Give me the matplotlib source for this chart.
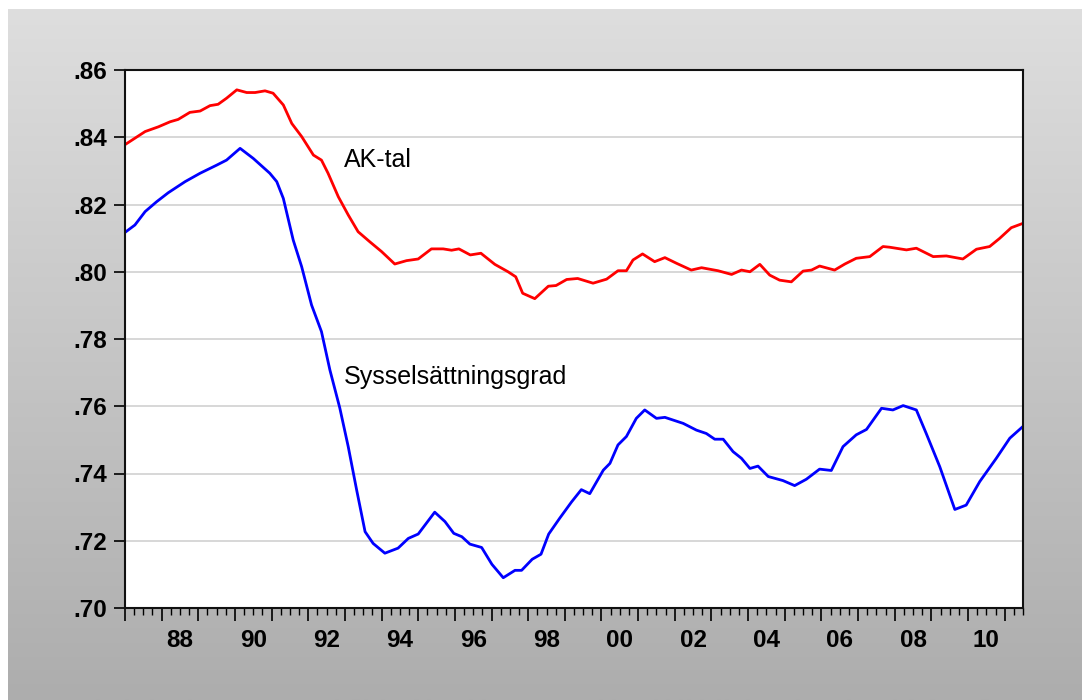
import numpy as np
import matplotlib
matplotlib.use("Agg")
import matplotlib.pyplot as plt
from matplotlib.ticker import MultipleLocator, FixedLocator

plt.rcParams["font.family"] = ["Liberation Sans", "DejaVu Sans"]

# -----------------------------
# Data
# -----------------------------
ak_year = [1987.0, 1987.55, 1987.91, 1988.23, 1988.45, 1988.77, 1989.05, 1989.32,
           1989.54, 1989.77, 1990.05, 1990.32, 1990.55, 1990.82, 1991.04, 1991.32,
           1991.55, 1991.82, 1992.14, 1992.36, 1992.54, 1992.82, 1993.09, 1993.36,
           1993.68, 1994.00, 1994.36, 1994.68, 1995.00, 1995.36, 1995.68, 1995.91,
           1996.11, 1996.42, 1996.71, 1997.09, 1997.45, 1997.66, 1997.85, 1998.18,
           1998.55, 1998.76, 1999.05, 1999.35, 1999.77, 2000.14, 2000.45, 2000.68,
           2000.86, 2001.12, 2001.45, 2001.73, 2002.05, 2002.45, 2002.73, 2003.18,
           2003.55, 2003.82, 2004.05, 2004.32, 2004.59, 2004.86, 2005.18, 2005.50,
           2005.73, 2005.95, 2006.36, 2006.64, 2006.95, 2007.32, 2007.68, 2007.86,
           2008.32, 2008.59, 2009.05, 2009.41, 2009.86, 2010.23, 2010.59, 2010.86,
           2011.18, 2011.5]
ak_tal = [.8378, .8417, .8431, .8446, .8453, .8474, .8478, .8494,
          .8498, .8516, .8541, .8533, .8533, .8538, .8531, .8496,
          .8441, .8402, .8347, .8332, .8293, .8223, .8169, .8119,
          .8089, .8060, .8023, .8033, .8038, .8068, .8068, .8064,
          .8068, .8050, .8055, .8022, .8000, .7985, .7936, .7920,
          .7957, .7959, .7977, .7980, .7966, .7978, .8003, .8003,
          .8035, .8053, .8030, .8042, .8025, .8005, .8012, .8003,
          .7992, .8005, .8000, .8022, .7990, .7975, .7970, .8002,
          .8005, .8017, .8005, .8023, .8040, .8045, .8075, .8073,
          .8065, .8070, .8045, .8047, .8038, .8067, .8075, .8099,
          .8131, .8144]

sys_year = [1987.0, 1987.27, 1987.55, 1987.86, 1988.18, 1988.64, 1989.05, 1989.50,
            1989.77, 1990.14, 1990.50, 1990.95, 1991.14, 1991.32, 1991.59, 1991.82,
            1992.09, 1992.36, 1992.59, 1992.86, 1993.09, 1993.32, 1993.55, 1993.77,
            1994.09, 1994.45, 1994.73, 1995.00, 1995.45, 1995.73, 1995.97, 1996.19,
            1996.41, 1996.73, 1997.01, 1997.32, 1997.64, 1997.82, 1998.11, 1998.35,
            1998.56, 1998.86, 1999.18, 1999.45, 1999.68, 2000.05, 2000.23, 2000.45,
            2000.68, 2000.95, 2001.18, 2001.50, 2001.73, 2002.23, 2002.59, 2002.86,
            2003.09, 2003.32, 2003.59, 2003.82, 2004.05, 2004.27, 2004.55, 2004.95,
            2005.27, 2005.59, 2005.95, 2006.27, 2006.59, 2006.95, 2007.23, 2007.64,
            2007.95, 2008.23, 2008.59, 2008.86, 2009.23, 2009.64, 2009.95, 2010.32,
            2010.77, 2011.14, 2011.5]
sysselsattning = [.8117, .8139, .8179, .8208, .8235, .8268, .8293, .8317,
                  .8332, .8367, .8337, .8293, .8268, .8218, .8094, .8015,
                  .7901, .7822, .7708, .7595, .7480, .7351, .7227, .7192,
                  .7163, .7178, .7207, .7220, .7285, .7257, .7222, .7212,
                  .7190, .7180, .7130, .7090, .7112, .7112, .7145, .7160,
                  .7220, .7267, .7315, .7352, .7340, .7410, .7430, .7485,
                  .7510, .7564, .7589, .7564, .7567, .7549, .7529, .7519,
                  .7502, .7502, .7465, .7445, .7415, .7422, .7391, .7379,
                  .7364, .7383, .7413, .7409, .7480, .7515, .7531, .7594,
                  .7589, .7602, .7589, .7519, .7420, .7293, .7306, .7376,
                  .7445, .7505, .7540]

y_ticks = [.70, .72, .74, .76, .78, .80, .82, .84, .86]
label_years = list(range(1988, 2011, 2))

# -----------------------------
# Figure with grey gradient frame
# -----------------------------
fig = plt.figure(figsize=(10.87, 7.0), dpi=100)
bg = fig.add_axes([0, 0, 1, 1], zorder=0)
grad = np.linspace(0, 1, 256).reshape(-1, 1)
bg.imshow(grad, cmap=matplotlib.colors.LinearSegmentedColormap.from_list(
    "g", ["#dedede", "#adadad"]), aspect="auto",
    extent=[8 / 1087, 1082 / 1087, 0, 1 - 9 / 700], origin="upper")
bg.set_xlim(0, 1)
bg.set_ylim(0, 1)
bg.axis("off")

ax = fig.add_axes([125 / 1087, 92 / 700, 898 / 1087, 538 / 700], zorder=1)
ax.set_facecolor("white")

ax.plot(ak_year, ak_tal, color="#ff0000", lw=2.0,
        solid_joinstyle="round", solid_capstyle="round")
ax.plot(sys_year, sysselsattning, color="#0000ff", lw=2.0,
        solid_joinstyle="round", solid_capstyle="round")

ax.text(1992.97, .8312, "AK-tal", fontsize=18, va="baseline", ha="left")
ax.text(1992.97, .7666, "Sysselsättningsgrad", fontsize=18, va="baseline", ha="left")

ax.set_xlim(1987.0, 2011.5)
ax.set_ylim(.70, .86)

# y axis
ax.set_yticks(y_ticks)
ax.set_yticklabels([f"{v:.2f}".lstrip("0") for v in y_ticks],
                   fontsize=17.5, fontweight="bold")
ax.tick_params(axis="y", direction="out", length=8, width=1.2, pad=5)
ax.grid(axis="y", color="#d4d4d4", lw=1.3)
ax.set_axisbelow(True)

# x axis: long ticks at year boundaries, short at quarters
ax.xaxis.set_major_locator(MultipleLocator(1))
ax.xaxis.set_minor_locator(MultipleLocator(0.25))
ax.tick_params(axis="x", which="major", direction="out", length=9.5, width=1.2,
               labelbottom=False)
ax.tick_params(axis="x", which="minor", direction="out", length=5, width=1.0)

# year labels centred in the middle of each year
sec = ax.secondary_xaxis("bottom")
sec.xaxis.set_major_locator(FixedLocator([y + 0.5 for y in label_years]))
sec.set_xticklabels([f"{y % 100:02d}" for y in label_years],
                    fontsize=17.5, fontweight="bold")
sec.tick_params(axis="x", length=0, pad=15)
sec.spines["bottom"].set_visible(False)

for s in ax.spines.values():
    s.set_linewidth(1.5)
    s.set_color("#111111")

fig.savefig("out.png", dpi=100)
